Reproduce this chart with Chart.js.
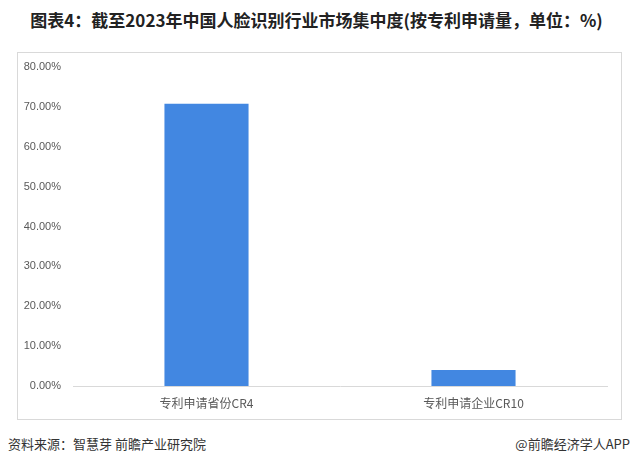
<!DOCTYPE html>
<html>
<head>
<meta charset="utf-8">
<script src="https://cdn.jsdelivr.net/npm/chart.js@4"></script>
<style>
  body { margin: 0; width: 633px; height: 466px; background: #fff; position: relative; font-family: "Noto Sans CJK SC", sans-serif; }
  #title { position: absolute; top: 7px; left: 0; width: 633px; text-align: center; font-size: 17px; font-weight: bold; color: #222; }
  #box { position: absolute; left: 17px; top: 52px; width: 603px; height: 366px; border: 1px solid #d9d9d9; }
  #wrap { position: absolute; left: 0; top: 0; width: 603px; height: 366px; }
  #src { position: absolute; left: 8px; top: 434px; font-size: 13px; color: #333; }
  #app { position: absolute; right: 3px; top: 434px; font-size: 13px; color: #333; }
</style>
</head>
<body>
<div id="title">图表4：截至2023年中国人脸识别行业市场集中度(按专利申请量，单位：%)</div>
<div id="box"><div id="wrap"><canvas id="chart"></canvas></div></div>
<div id="src">资料来源：智慧芽 前瞻产业研究院</div>
<div id="app">@前瞻经济学人APP</div>
<script>
"use strict";

var categories = ["专利申请省份CR4", "专利申请企业CR10"];
var shares = [70.8, 4.0];
var yMax = 80;
var yStep = 10;

new Chart(document.getElementById("chart"), {
    type: "bar",
    data: {
        labels: categories,
        datasets: [{
            data: shares,
            backgroundColor: "#4287e1",
            barPercentage: 0.315,
            categoryPercentage: 1
        }]
    },
    options: {
        responsive: true,
        maintainAspectRatio: false,
        animation: false,
        layout: {
            padding: { top: 14, right: 14, bottom: 9, left: 0 }
        },
        plugins: {
            legend: { display: false },
            tooltip: { enabled: false }
        },
        scales: {
            x: {
                grid: { display: false, drawTicks: false },
                border: { color: "#d9d9d9", width: 1 },
                ticks: {
                    color: "#595959",
                    font: { size: 12, family: "Noto Sans CJK SC" },
                    padding: 10
                },
                afterFit: function(scale) {
                    scale.height = 24;
                    scale.paddingLeft = 0;
                    scale.paddingRight = 0;
                }
            },
            y: {
                min: 0,
                max: yMax,
                grid: { display: false, drawTicks: false },
                border: { display: false },
                ticks: {
                    stepSize: yStep,
                    color: "#595959",
                    font: { size: 11, family: "Liberation Sans" },
                    padding: 12,
                    callback: function(v) { return v.toFixed(2) + "%"; }
                },
                afterFit: function(scale) {
                    scale.width = 55;
                    scale.paddingTop = 0;
                    scale.paddingBottom = 0;
                }
            }
        }
    }
});
</script>
</body>
</html>
